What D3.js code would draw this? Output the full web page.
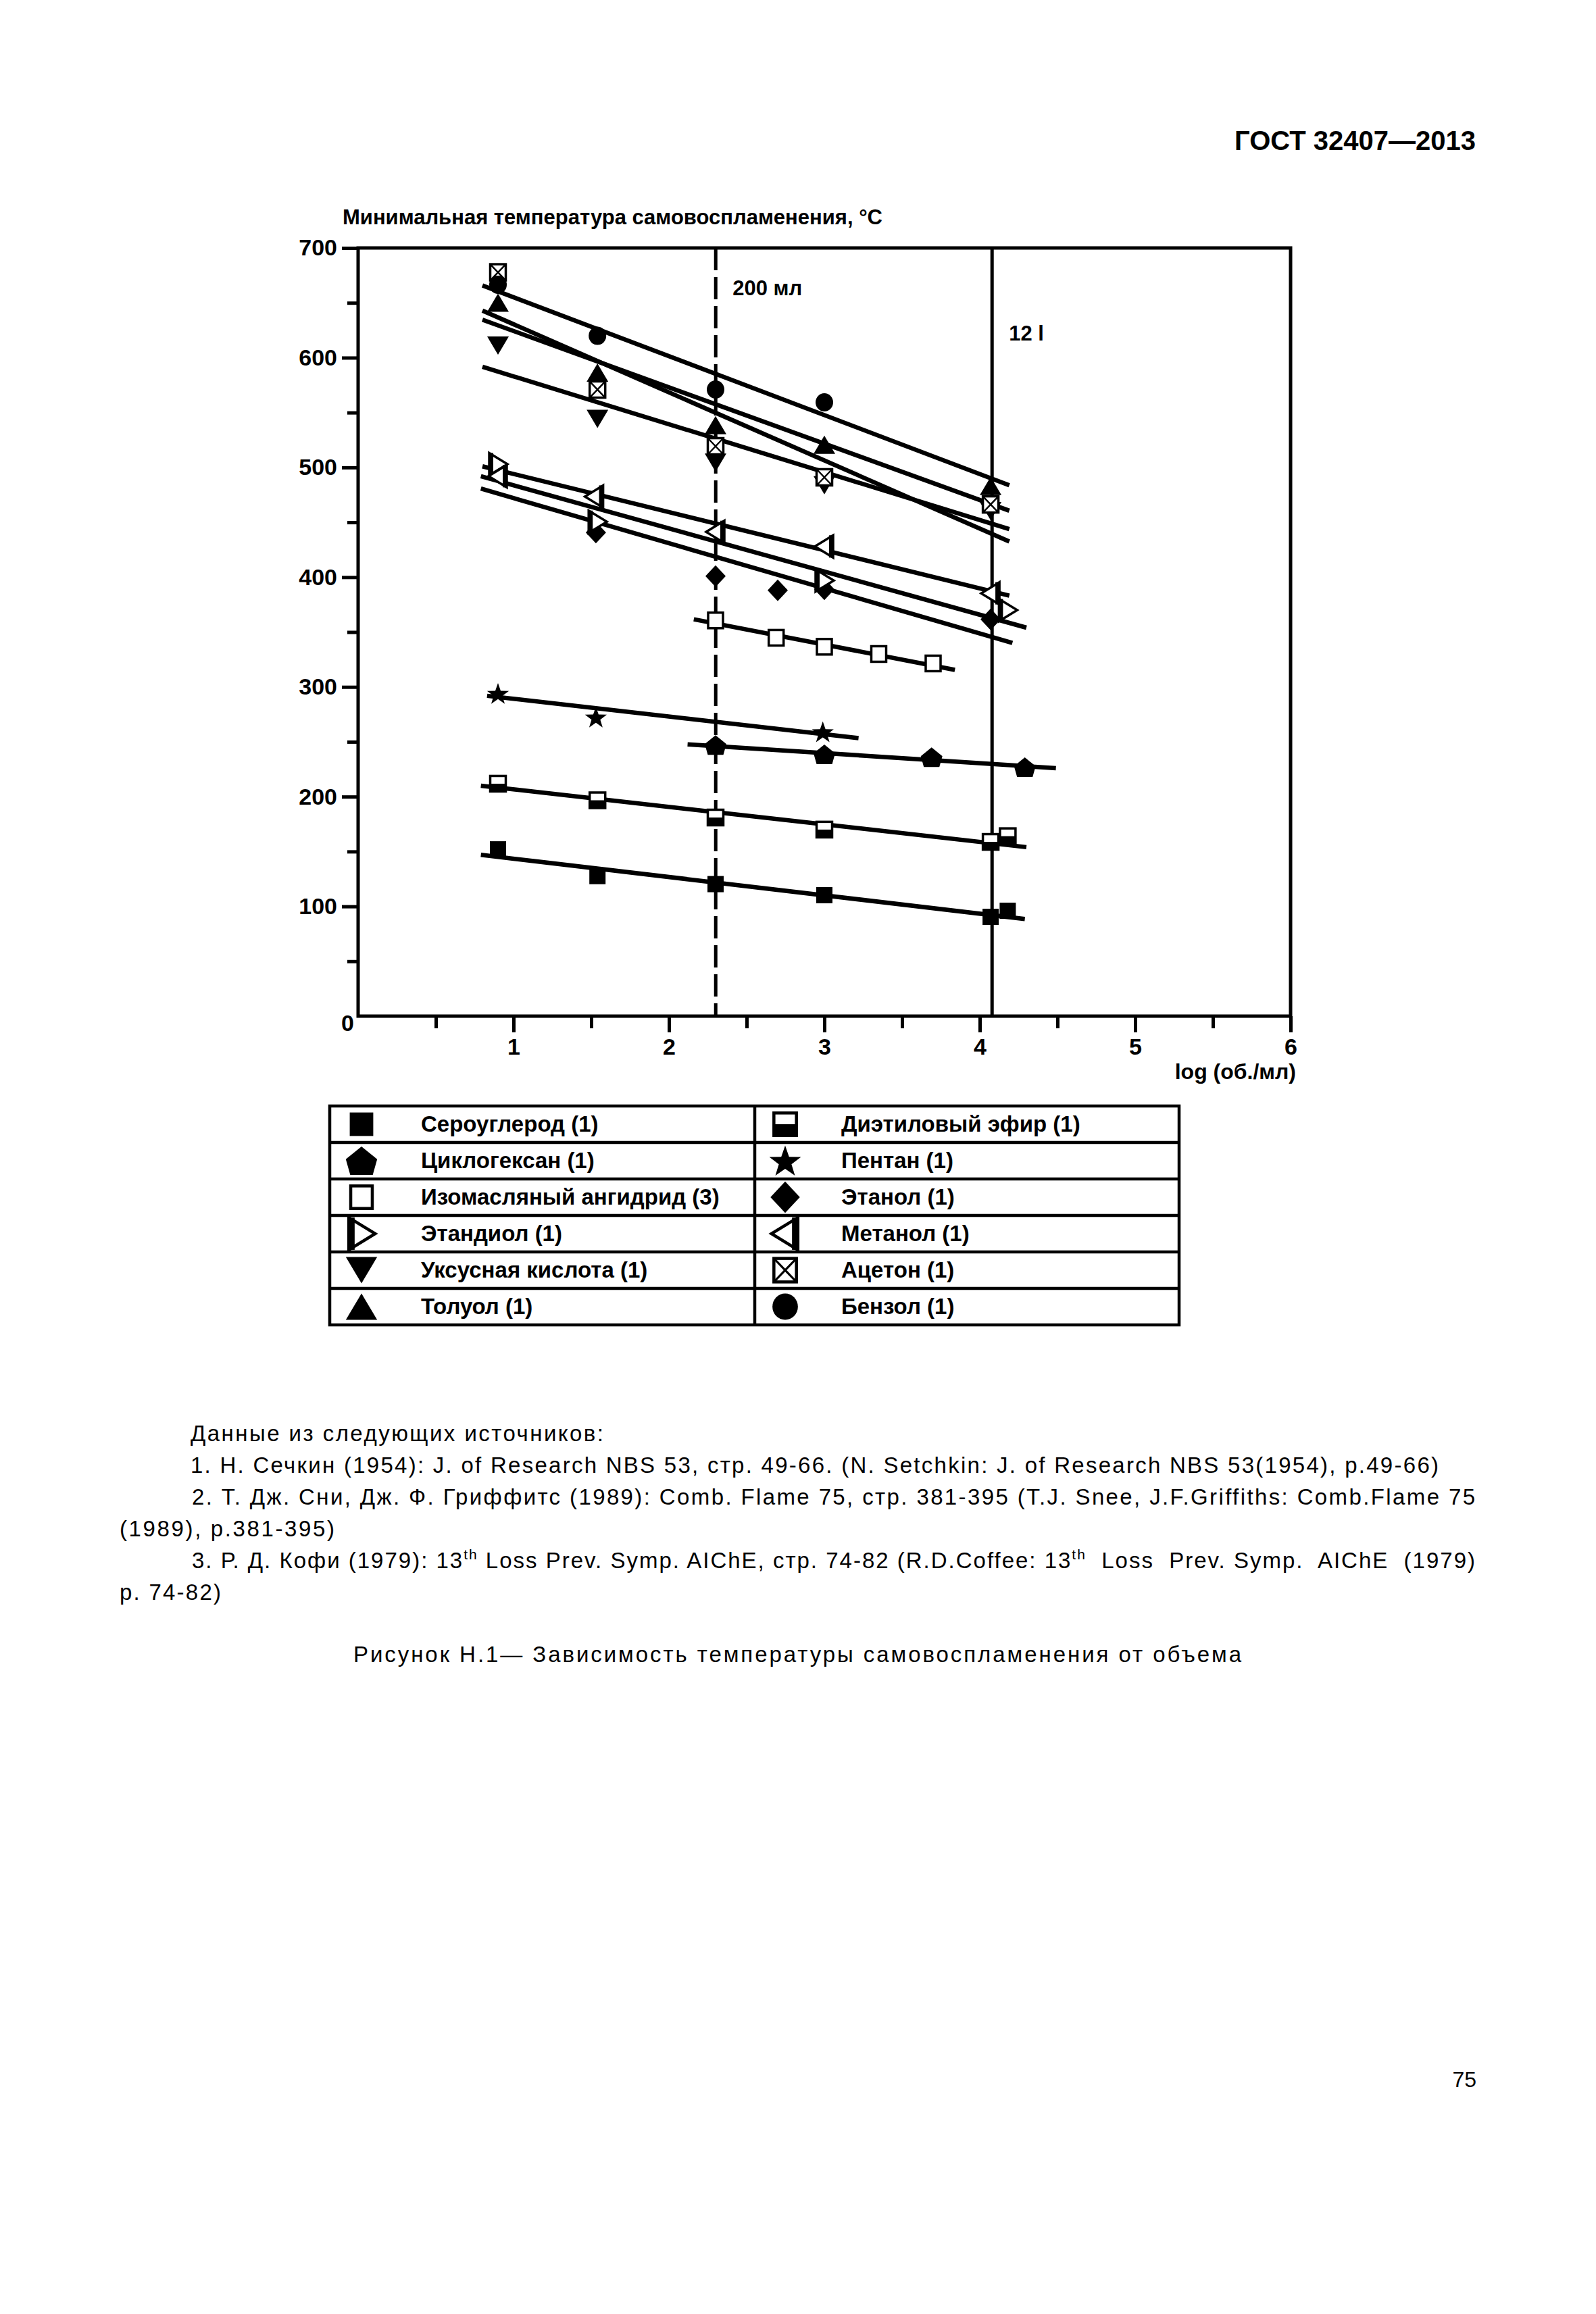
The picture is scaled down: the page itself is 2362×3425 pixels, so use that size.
<!DOCTYPE html>
<html><head><meta charset="utf-8">
<script src="https://cdn.jsdelivr.net/npm/d3@7"></script>
<style>body{margin:0;background:#fff}svg{display:block}</style>
</head><body>
<script>
// ---------------- DATA ----------------
const xTicksMajor = [1, 2, 3, 4, 5, 6];
const xTicksMinor = [0.5, 1.5, 2.5, 3.5, 4.5, 5.5];
const yTicksMajor = [100, 200, 300, 400, 500, 600, 700];
const yTicksMinor = [50, 150, 250, 350, 450, 550, 650];
const volumeMarks = [ {v: Math.log10(200), label: "200 мл", dashed: true}, {v: Math.log10(12000), label: "12 l", dashed: false} ];

const seroug      = [[0.90,152],[1.54,127.6],[2.30,120.3],[3.00,110.2],[4.07,90.5],[4.18,96]];
const serougFit   = [[0.79,147],[4.29,88.5]];
const dietil      = [[0.90,211.8],[1.54,196.7],[2.30,181],[3.00,170],[4.07,158.8],[4.18,164]];
const dietilFit   = [[0.79,210],[4.30,154]];
const ciklo       = [[2.30,247],[3.00,238.5],[3.69,236],[4.29,226.8]];
const cikloFit    = [[2.12,247.7],[4.49,226]];
const pentan      = [[0.90,294],[1.53,272.4],[2.99,259]];
const pentanFit   = [[0.83,291.9],[3.22,253.3]];
const izomas      = [[2.30,360.6],[2.69,344.8],[3.00,336.6],[3.35,330],[3.70,321.4]];
const izomasFit   = [[2.16,361.6],[3.84,315.5]];
const etanol      = [[1.53,440.7],[2.30,401],[2.70,388],[3.00,389],[4.07,361.6]];
const etanolFit   = [[0.79,480.7],[4.21,340.1]];
const etandiol    = [[0.90,503],[1.54,450.5],[3.00,397],[4.18,370]];
const etandiolFit = [[0.79,492],[4.30,354]];
const metanol     = [[0.90,492],[1.52,473.5],[2.30,441.3],[3.00,428],[4.07,385.3]];
const metanolFit  = [[0.80,501],[4.19,383.2]];
const uksus       = [[0.90,611],[1.54,544.3],[2.30,504.3],[3.00,483.8],[4.07,460.2]];
const uksusFit    = [[0.80,591.7],[4.19,443.8]];
const aceton      = [[0.90,677.8],[1.54,571],[2.30,519.3],[3.00,491],[4.07,466.3]];
const acetonFit   = [[0.80,642.9],[4.19,432.5]];
const toluol      = [[0.90,650.2],[1.54,586.4],[2.30,538.6],[3.00,520.7],[4.07,483.2]];
const toluolFit   = [[0.80,634.6],[4.19,460.6]];
const benzol      = [[0.90,666.5],[1.54,619.9],[2.30,571],[3.00,559.3]];
const benzolFit   = [[0.80,665.8],[4.19,483.8]];

const seriesNames = ["Сероуглерод (1)","Диэтиловый эфир (1)","Циклогексан (1)","Пентан (1)","Изомасляный ангидрид (3)","Этанол (1)","Этандиол (1)","Метанол (1)","Уксусная кислота (1)","Ацетон (1)","Толуол (1)","Бензол (1)"];
const seriesMarkers = ["square","half","pentagon","star","open","diamond","rtri","ltri","dtri","xbox","utri","circle"];
const seriesPoints = [seroug,dietil,ciklo,pentan,izomas,etanol,etandiol,metanol,uksus,aceton,toluol,benzol];
const seriesFits = [serougFit,dietilFit,cikloFit,pentanFit,izomasFit,etanolFit,etandiolFit,metanolFit,uksusFit,acetonFit,toluolFit,benzolFit];

const headerText = "ГОСТ 32407—2013";
const yTitle = "Минимальная температура самовоспламенения, °С";
const xTitle = "log (об./мл)";
const sourceLines = [
  "Данные из следующих источников:",
  "1. Н. Сечкин (1954): J. of Research NBS 53, стр. 49-66. (N. Setchkin: J. of Research NBS 53(1954), p.49-66)",
  "2. Т. Дж. Сни, Дж. Ф. Гриффитс (1989): Comb. Flame 75, стр. 381-395 (T.J. Snee, J.F.Griffiths: Comb.Flame 75",
  "(1989), p.381-395)",
  ["3. Р. Д. Кофи (1979): 13", "th", " Loss Prev. Symp. AIChE, стр. 74-82 (R.D.Coffee: 13", "th", "  Loss  Prev. Symp.  AIChE  (1979)"],
  "p. 74-82)"
];
const captionText = "Рисунок Н.1— Зависимость температуры самовоспламенения от объема";
const pageNumber = "75";

// ---------------- LAYOUT ----------------
const W = 2362, H = 3425;
const FONT = "'Liberation Sans', Arial, Helvetica, sans-serif";
const svg = d3.select("body").append("svg").attr("width", W).attr("height", H).attr("viewBox", `0 0 ${W} ${H}`);
svg.append("rect").attr("width", W).attr("height", H).attr("fill", "#fff");

const x = d3.scaleLinear().domain([0, 6]).range([530, 1910]);
const y = d3.scaleLinear().domain([0, 700]).range([1504, 367]);

// header
svg.append("text").attr("x", 2184).attr("y", 222).attr("text-anchor", "end")
  .attr("font-family", FONT).attr("font-weight", "bold").attr("font-size", 40).text(headerText);

// chart title
svg.append("text").attr("x", 507).attr("y", 332).attr("font-family", FONT).attr("font-weight", "bold")
  .attr("font-size", 31).text(yTitle);

const plot = svg.append("g");

// axes ticks
function styleAxis(g, fs) {
  g.select(".domain").remove();
  g.selectAll(".tick line").attr("stroke", "#000").attr("stroke-width", 5);
  g.selectAll(".tick text").attr("font-family", FONT).attr("font-weight", "bold").attr("font-size", fs).attr("fill", "#000");
}
plot.append("g").attr("transform", `translate(${x(0)},0)`)
  .call(d3.axisLeft(y).tickValues(yTicksMajor).tickSize(24).tickPadding(7).tickFormat(d3.format("d")))
  .call(g => styleAxis(g, 34));
plot.append("g").attr("transform", `translate(${x(0)},0)`)
  .call(d3.axisLeft(y).tickValues(yTicksMinor).tickSize(16).tickFormat(""))
  .call(g => styleAxis(g, 34));
plot.append("g").attr("transform", `translate(0,${y(0)})`)
  .call(d3.axisBottom(x).tickValues(xTicksMajor).tickSize(24).tickPadding(9).tickFormat(d3.format("d")))
  .call(g => styleAxis(g, 34));
plot.append("g").attr("transform", `translate(0,${y(0)})`)
  .call(d3.axisBottom(x).tickValues(xTicksMinor).tickSize(18).tickFormat(""))
  .call(g => styleAxis(g, 34));
// zero label
plot.append("text").attr("x", x(0) - 6).attr("y", y(0) + 22).attr("text-anchor", "end")
  .attr("font-family", FONT).attr("font-weight", "bold").attr("font-size", 34).text("0");

// frame
plot.append("rect").attr("x", x(0)).attr("y", y(700)).attr("width", x(6) - x(0)).attr("height", y(0) - y(700))
  .attr("fill", "none").attr("stroke", "#000").attr("stroke-width", 5);

// x title
plot.append("text").attr("x", 1918).attr("y", 1597).attr("text-anchor", "end")
  .attr("font-family", FONT).attr("font-weight", "bold").attr("font-size", 32).text(xTitle);

// volume marks
volumeMarks.forEach((m, i) => {
  plot.append("line").attr("x1", x(m.v)).attr("x2", x(m.v)).attr("y1", y(700)).attr("y2", y(0))
    .attr("stroke", "#000").attr("stroke-width", 5).attr("stroke-dasharray", m.dashed ? "33,10" : null);
  plot.append("text").attr("x", x(m.v) + 25).attr("y", i === 0 ? 437 : 504)
    .attr("font-family", FONT).attr("font-weight", "bold").attr("font-size", 31).text(m.label);
});

// fit lines
const line = d3.line().x(d => x(d[0])).y(d => y(d[1]));
seriesFits.forEach(f => {
  plot.append("path").attr("d", line(f)).attr("fill", "none").attr("stroke", "#000")
    .attr("stroke-width", 6.5).attr("stroke-linecap", "butt");
});

// markers
function poly(pts, k) { return "M" + pts.map(p => [p[0] * k, p[1] * k].join(",")).join("L") + "Z"; }
function starPts(R, r) {
  const pts = [];
  for (let i = 0; i < 10; i++) {
    const a = -Math.PI / 2 + i * Math.PI / 5, rr = i % 2 ? r : R;
    pts.push([rr * Math.cos(a), rr * Math.sin(a) + 1.5]);
  }
  return pts;
}
function drawMarker(g, type, k) {
  const sw = k > 1 ? 4.5 : 3.5;
  const B = "#000", Wt = "#fff";
  switch (type) {
    case "square":
      g.append("rect").attr("x", -12 * k).attr("y", -12 * k).attr("width", 24 * k).attr("height", 24 * k).attr("fill", B); break;
    case "half":
      g.append("rect").attr("x", -11.5 * k).attr("y", -11.5 * k).attr("width", 23 * k).attr("height", 23 * k).attr("fill", Wt).attr("stroke", B).attr("stroke-width", sw);
      g.append("rect").attr("x", -11.5 * k).attr("y", 0).attr("width", 23 * k).attr("height", 11.5 * k).attr("fill", B); break;
    case "pentagon":
      g.append("path").attr("d", poly([[0, -14.5], [16, -1.5], [11.5, 14.5], [-11.5, 14.5], [-16, -1.5]], k)).attr("fill", B); break;
    case "open":
      g.append("rect").attr("x", -11 * k).attr("y", -11.5 * k).attr("width", 22 * k).attr("height", 23 * k).attr("fill", Wt).attr("stroke", B).attr("stroke-width", sw); break;
    case "star":
      g.append("path").attr("d", poly(starPts(17, 6.8), k)).attr("fill", B); break;
    case "diamond":
      g.append("path").attr("d", poly([[0, -16], [15, 0], [0, 16], [-15, 0]], k)).attr("fill", B); break;
    case "rtri":
      g.append("path").attr("d", poly([[-13, -16.5], [14, 0], [-13, 16.5]], k)).attr("fill", Wt).attr("stroke", B).attr("stroke-width", sw).attr("stroke-linejoin", "miter");
      g.append("rect").attr("x", -14 * k).attr("y", -16.5 * k).attr("width", 7 * k).attr("height", 33 * k).attr("fill", B); break;
    case "ltri":
      g.append("path").attr("d", poly([[13, -16.5], [-14, 0], [13, 16.5]], k)).attr("fill", Wt).attr("stroke", B).attr("stroke-width", sw).attr("stroke-linejoin", "miter");
      g.append("rect").attr("x", 7 * k).attr("y", -16.5 * k).attr("width", 7 * k).attr("height", 33 * k).attr("fill", B); break;
    case "dtri":
      g.append("path").attr("d", poly([[-16, -13.5], [16, -13.5], [0, 13.5]], k)).attr("fill", B); break;
    case "utri":
      g.append("path").attr("d", poly([[0, -13.5], [16, 13.5], [-16, 13.5]], k)).attr("fill", B); break;
    case "xbox":
      g.append("rect").attr("x", -11.5 * k).attr("y", -12 * k).attr("width", 23 * k).attr("height", 24 * k).attr("fill", Wt).attr("stroke", B).attr("stroke-width", sw);
      g.append("path").attr("d", `M${-11.5 * k},${-12 * k}L${11.5 * k},${12 * k}M${11.5 * k},${-12 * k}L${-11.5 * k},${12 * k}`).attr("stroke", B).attr("stroke-width", sw * 0.7); break;
    case "circle":
      g.append("ellipse").attr("rx", 13 * k).attr("ry", 13.5 * k).attr("fill", B); break;
  }
}
seriesPoints.forEach((pts, i) => {
  plot.append("g").selectAll("g").data(pts).join("g")
    .attr("transform", d => `translate(${x(d[0])},${y(d[1])})`)
    .each(function () { drawMarker(d3.select(this), seriesMarkers[i], 1); });
});

// ---------------- LEGEND TABLE ----------------
const tL = 488, tR = 1745, tM = 1117, tT = 1637, rowH = 54, nRows = 6;
const leg = svg.append("g");
leg.append("rect").attr("x", tL).attr("y", tT).attr("width", tR - tL).attr("height", rowH * nRows)
  .attr("fill", "none").attr("stroke", "#000").attr("stroke-width", 4.5);
leg.append("line").attr("x1", tM).attr("x2", tM).attr("y1", tT).attr("y2", tT + rowH * nRows).attr("stroke", "#000").attr("stroke-width", 4.5);
d3.range(1, nRows).forEach(r => leg.append("line").attr("x1", tL).attr("x2", tR).attr("y1", tT + r * rowH).attr("y2", tT + r * rowH).attr("stroke", "#000").attr("stroke-width", 4.5));
seriesNames.forEach((name, i) => {
  const row = Math.floor(i / 2), col = i % 2;
  const cy = tT + row * rowH + rowH / 2;
  const mx = col === 0 ? 535 : 1162, tx = col === 0 ? 623 : 1245;
  const g = leg.append("g").attr("transform", `translate(${mx},${cy})`);
  drawMarker(g, seriesMarkers[i], 1.45);
  leg.append("text").attr("x", tx).attr("y", cy + 11).attr("font-family", FONT).attr("font-weight", "bold")
    .attr("font-size", 33).text(name);
});

// ---------------- TEXT BELOW ----------------
const textLayout = [
  {x: 282, y: 2133, len: 611},
  {x: 282, y: 2180, len: 1847},
  {x: 284, y: 2227, len: 1899},
  {x: 177, y: 2274, len: 318},
  {x: 284, y: 2321, len: 1899},
  {x: 177, y: 2368, len: 150}
];
sourceLines.forEach((ln, i) => {
  const L = textLayout[i];
  const t = svg.append("text").attr("x", L.x).attr("y", L.y).attr("font-family", FONT).attr("font-size", 33)
    .attr("textLength", L.len).attr("lengthAdjust", "spacing").attr("xml:space", "preserve").style("white-space", "pre");
  if (Array.isArray(ln)) {
    ln.forEach((part, j) => {
      const sup = j % 2 === 1;
      t.append("tspan").attr("font-size", sup ? 21 : 33).attr("dy", sup ? -13 : (j > 0 ? 13 : 0)).text(part);
    });
  } else t.text(ln);
});
svg.append("text").attr("x", 523).attr("y", 2460).attr("font-family", FONT).attr("font-size", 33)
  .attr("textLength", 1314).attr("lengthAdjust", "spacing").text(captionText);
svg.append("text").attr("x", 2185).attr("y", 3089).attr("text-anchor", "end").attr("font-family", FONT)
  .attr("font-size", 32).text(pageNumber);
</script>
</body></html>
